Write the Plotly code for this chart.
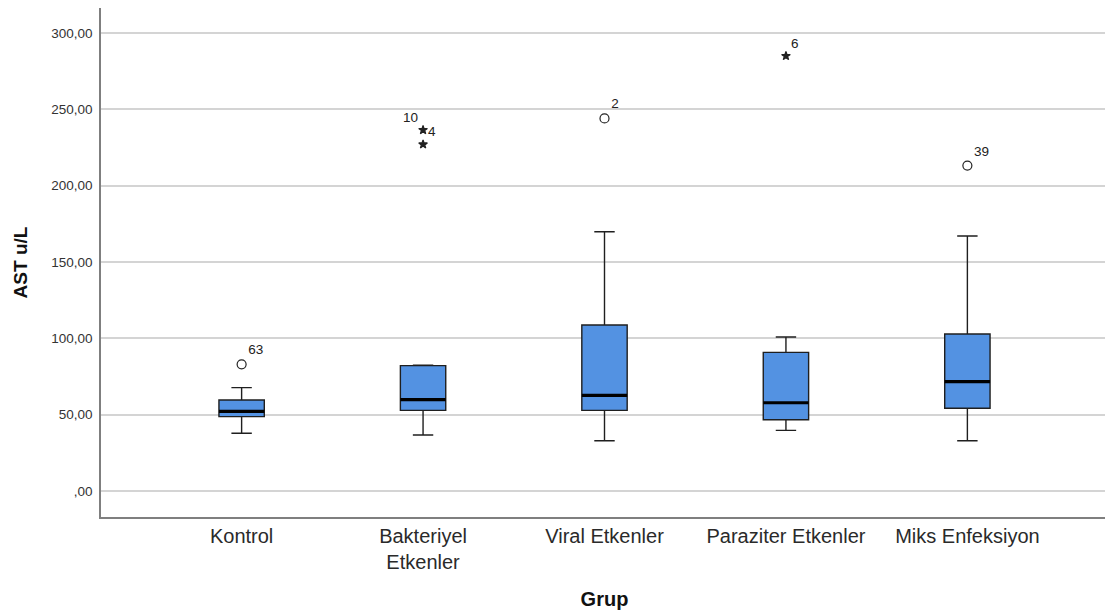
import plotly.graph_objects as go

categories = ["Kontrol", "Bakteriyel<br>Etkenler", "Viral Etkenler", "Paraziter Etkenler", "Miks Enfeksiyon"]
lower_whisker = [37.8, 36.7, 32.9, 39.7, 32.9]
q1 = [48.7, 52.8, 52.8, 46.7, 54.2]
median = [52.2, 59.8, 62.7, 57.8, 71.6]
q3 = [59.6, 82.1, 108.7, 90.8, 102.8]
upper_whisker = [67.7, 82.4, 169.8, 100.9, 167.0]

# outliers: (category index, value, case label, kind)
out_cat = [0, 1, 1, 2, 3, 4]
out_val = [83.0, 236.4, 227.0, 244.0, 284.9, 213.1]
out_lbl = ["63", "10", "4", "2", "6", "39"]
out_kind = ["o", "*", "*", "o", "*", "o"]
out_pos = ["top right", "top left", "top right", "top right", "top right", "top right"]

ytick_vals = [0, 50, 100, 150, 200, 250, 300]
ytick_text = [",00", "50,00", "100,00", "150,00", "200,00", "250,00", "300,00"]

box_w = 0.25
xs = list(range(len(categories)))
FONT = "Liberation Sans, Arial, sans-serif"

fig = go.Figure()
fig.add_trace(go.Box(
    x=xs, q1=q1, median=median, q3=q3,
    lowerfence=lower_whisker, upperfence=upper_whisker,
    fillcolor="#5392e2", line=dict(color="#1f1f1f", width=1.4),
    width=box_w, whiskerwidth=0.45, boxpoints=False, hoverinfo="skip",
    showlegend=False,
))

# thick median lines
mx, my = [], []
for i, m in zip(xs, median):
    mx += [i - box_w / 2, i + box_w / 2, None]
    my += [m, m, None]
fig.add_trace(go.Scatter(x=mx, y=my, mode="lines",
                         line=dict(color="black", width=3.2),
                         showlegend=False, hoverinfo="skip"))

for kind, sym, size in [("o", "circle-open", 9), ("*", "star", 6.5)]:
    idx = [k for k in range(len(out_val)) if out_kind[k] == kind]
    fig.add_trace(go.Scatter(
        x=[out_cat[k] for k in idx], y=[out_val[k] for k in idx],
        mode="markers+text",
        marker=dict(symbol=sym, size=size, color="#222",
                    line=dict(color="#222", width=1.2)),
        text=[out_lbl[k] for k in idx],
        textposition=[out_pos[k] for k in idx],
        textfont=dict(family=FONT, size=13.5, color="#222"),
        showlegend=False, hoverinfo="skip",
    ))

# page body has an 8px default margin, so the figure is sized/offset to compensate
fig.update_layout(
    width=1105, height=603,
    margin=dict(l=93, r=5, t=0, b=94),
    paper_bgcolor="white", plot_bgcolor="white",
    font=dict(family=FONT, color="#222"),
    xaxis=dict(
        range=[-0.775, 4.775], tickvals=xs, ticktext=categories,
        tickfont=dict(size=20, color="#2a2a2a"),
        showgrid=False, zeroline=False, automargin=False,
        showline=True, linecolor="#7f7f7f", linewidth=1.5,
        ticks="",
        title=dict(text="<b>Grup</b>", font=dict(size=20, color="#111"), standoff=20),
    ),
    yaxis=dict(
        range=[-17, 316.3], tickvals=ytick_vals, ticktext=ytick_text,
        tickfont=dict(size=13.5, color="#333"),
        showgrid=True, gridcolor="#d4d4d4", gridwidth=1.5,
        zeroline=False, showline=True, linecolor="#7f7f7f", linewidth=1.5,
        ticks="", ticklabelstandoff=4, automargin=False,
        title=dict(text="<b>AST u/L</b>", font=dict(size=19, color="#111"), standoff=19),
    ),
)

fig.write_html("out.html")
